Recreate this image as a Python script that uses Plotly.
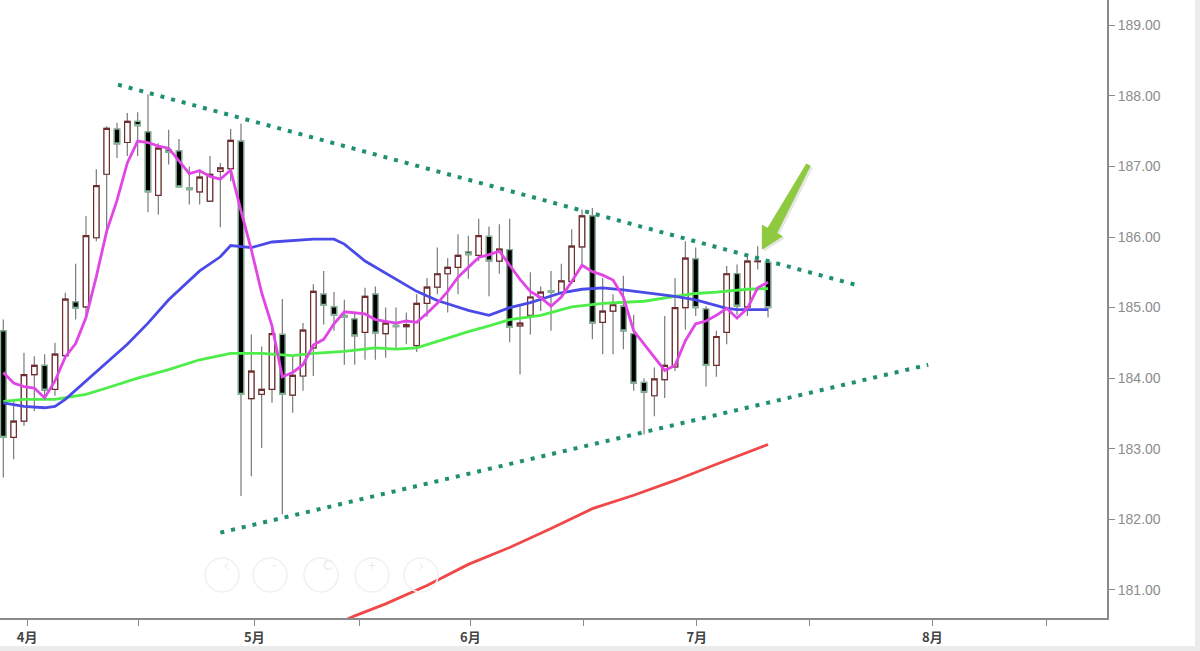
import math
import plotly.graph_objects as go

# daily candles (index 0 = first visible trading day)
opens = [184.67, 183.16, 183.39, 184.05, 184.18, 183.84, 184.32, 185.08, 185.01, 185.99,
         186.89, 187.53, 187.34, 187.64, 187.49, 186.59, 187.24, 187.22, 186.70, 186.64,
         186.51, 186.93, 186.97, 187.36, 183.71, 183.77, 183.84, 184.62, 183.76, 184.03,
         184.43, 185.19, 185.01, 184.89, 184.84, 184.65, 185.19, 184.63, 184.75, 184.73,
         184.46, 185.06, 185.29, 185.48, 185.57, 185.79, 185.74, 186.01, 185.66, 185.82,
         184.74, 184.89, 185.15, 185.24, 185.20, 185.37, 185.86, 186.30, 184.79, 184.95,
         185.02, 184.63, 183.94, 183.75, 183.98, 184.16, 185.00, 185.69, 184.98, 184.18,
         184.65, 185.48, 185.01, 185.65, 185.64]
highs = [184.83, 183.70, 184.36, 184.31, 184.34, 184.50, 185.21, 185.62, 186.30, 186.96,
         187.57, 187.62, 187.76, 187.77, 188.02, 187.33, 187.52, 187.39, 187.00, 186.96,
         187.15, 187.05, 187.53, 187.61, 184.62, 184.45, 184.74, 185.12, 184.31, 184.78,
         185.33, 185.52, 185.22, 185.11, 184.93, 185.28, 185.30, 185.00, 185.00, 184.93,
         185.19, 185.42, 185.85, 185.70, 186.04, 186.02, 186.26, 186.15, 186.18, 186.26,
         185.03, 185.50, 185.30, 185.52, 185.62, 186.11, 186.39, 186.41, 185.42, 185.19,
         185.45, 184.90, 184.00, 184.15, 184.88, 185.42, 185.94, 185.85, 185.02, 184.67,
         185.59, 185.61, 185.75, 185.87, 185.69]
lows = [182.59, 182.85, 183.32, 183.53, 183.72, 183.75, 184.28, 184.83, 184.84, 185.94,
        186.06, 187.12, 187.15, 187.15, 186.35, 186.32, 187.03, 186.70, 186.46, 186.46,
        186.50, 186.14, 186.79, 182.33, 182.61, 183.01, 183.65, 182.07, 183.51, 183.82,
        184.03, 184.76, 184.67, 184.19, 184.19, 184.26, 184.26, 184.29, 184.41, 184.48,
        184.37, 184.87, 185.19, 184.93, 185.19, 185.41, 185.66, 185.16, 185.48, 184.51,
        184.05, 184.62, 184.95, 184.67, 185.14, 185.33, 185.61, 184.55, 184.34, 184.34,
        184.41, 183.82, 183.20, 183.46, 183.72, 184.10, 184.69, 184.88, 183.88, 184.02,
        184.48, 184.89, 184.88, 185.54, 184.86]
closes = [183.16, 183.39, 184.05, 184.18, 183.83, 184.34, 185.12, 184.99, 186.02, 186.73,
          187.54, 187.32, 187.64, 187.58, 186.64, 187.26, 187.20, 186.71, 186.67, 186.85,
          186.89, 186.98, 187.37, 183.77, 184.10, 183.84, 184.63, 183.77, 184.04, 184.68,
          185.23, 185.03, 184.89, 184.86, 184.60, 185.16, 184.64, 184.78, 184.73, 184.76,
          185.06, 185.29, 185.48, 185.57, 185.74, 185.75, 186.02, 185.66, 185.83, 184.72,
          184.78, 185.15, 185.22, 185.22, 185.38, 185.87, 186.30, 184.78, 184.95, 185.04,
          184.67, 183.93, 183.80, 183.99, 184.18, 185.00, 185.70, 185.00, 184.18, 184.59,
          185.48, 185.02, 185.66, 185.66, 185.00]
days = list(range(len(opens)))

# moving averages
ma_short = [184.08, 183.93, 183.88, 183.86, 183.72, 183.96, 184.30, 184.49, 184.86, 185.44,
            186.08, 186.52, 187.05, 187.36, 187.34, 187.29, 187.26, 187.08, 186.90, 186.94,
            186.86, 186.82, 186.95, 186.37, 185.82, 185.21, 184.74, 184.02, 184.08, 184.19,
            184.47, 184.55, 184.77, 184.94, 184.92, 184.91, 184.83, 184.81, 184.78, 184.81,
            184.79, 184.92, 185.06, 185.23, 185.43, 185.57, 185.71, 185.75, 185.80, 185.60,
            185.40, 185.23, 185.14, 185.02, 185.15, 185.37, 185.60, 185.51, 185.46, 185.39,
            185.15, 184.67, 184.48, 184.29, 184.11, 184.18, 184.53, 184.77, 184.81, 184.89,
            184.99, 184.85, 184.99, 185.28, 185.36]

ma_mid_x = [0, 2, 4, 5, 6, 8, 10, 12, 14, 16, 19, 21, 22, 23, 24, 26, 28, 30, 32, 33,
            35, 38, 40, 42, 45, 47, 48, 49, 51, 54, 56, 58, 60, 63, 65, 67, 68, 70, 71, 74]
ma_mid = [183.65, 183.60, 183.58, 183.60, 183.70, 183.96, 184.22, 184.48, 184.78, 185.11,
          185.52, 185.72, 185.88, 185.87, 185.85, 185.93, 185.95, 185.97, 185.97, 185.90,
          185.66, 185.40, 185.23, 185.10, 184.96, 184.89, 184.95, 185.00, 185.07, 185.21,
          185.26, 185.28, 185.25, 185.20, 185.16, 185.11, 185.07, 184.99, 184.97, 184.97]

ma_long_x = [0, 2, 5, 8, 10, 13, 16, 19, 22, 25, 28, 30, 33, 36, 38, 40, 42, 45, 47, 49,
             52, 55, 58, 62, 65, 67, 69, 72, 74]
ma_long = [183.67, 183.70, 183.70, 183.77, 183.86, 184.00, 184.12, 184.26, 184.35, 184.35,
           184.32, 184.35, 184.38, 184.43, 184.41, 184.43, 184.52, 184.66, 184.74, 184.83,
           184.89, 185.01, 185.06, 185.09, 185.16, 185.20, 185.22, 185.26, 185.27]

ma_200_x = [32, 34, 37, 41, 45, 49, 53, 57, 61, 65, 69, 74]
ma_200 = [180.50, 180.63, 180.80, 181.06, 181.36, 181.60, 181.87, 182.15, 182.34, 182.55,
          182.78, 183.06]

# hand-drawn triangle lines
upper_x = [11.1, 82.8]
upper_y = [188.16, 185.31]
lower_x = [21.0, 89.5]
lower_y = [181.81, 184.19]

month_ticks = [2.3, 24.3, 45.2, 67.1, 89.9]
month_labels = ["4月", "5月", "6月", "7月", "8月"]
mid_ticks = [13.1, 34.5, 56.1, 78.0, 100.9]

arrow_tip = (73.4, 185.82)

X_RANGE = [-0.32, 106.8]
Y_RANGE = [180.60, 189.36]
W, H = 1200, 651
ML, MR, MT, MB = 0, 93, 0, 33
PW, PH = W - ML - MR, H - MT - MB

fig = go.Figure()

def add_line(x, y, color, width=2.5, dash=None):
    fig.add_trace(go.Scatter(x=x, y=y, mode="lines", hoverinfo="skip", showlegend=False,
                             line=dict(color=color, width=width, dash=dash)))

add_line(ma_200_x, ma_200, "#f04848", width=2.8)
add_line(ma_long_x, ma_long, "#4ded4a", width=2.8)
add_line(ma_mid_x, ma_mid, "#4a4ae8", width=2.8)
add_line(days, ma_short, "#e046e6", width=2.8)
add_line(upper_x, upper_y, "#1f8f72", width=4, dash="4px,7px")
add_line(lower_x, lower_y, "#1f8f72", width=4, dash="4px,7px")

# wicks (grey)
fig.add_trace(go.Candlestick(
    x=days, open=opens, high=highs, low=lows, close=closes,
    increasing=dict(line=dict(color="#7a7a7a", width=1.2), fillcolor="rgba(0,0,0,0)"),
    decreasing=dict(line=dict(color="#7a7a7a", width=1.2), fillcolor="rgba(0,0,0,0)"),
    hoverinfo="skip", showlegend=False, whiskerwidth=0))

# bodies
body_hi = [max(o, c) for o, c in zip(opens, closes)]
body_lo = [min(o, c) for o, c in zip(opens, closes)]
fig.add_trace(go.Candlestick(
    x=days, open=opens, high=body_hi, low=body_lo, close=closes,
    increasing=dict(line=dict(color="#6e2c2c", width=1.2), fillcolor="#ffffff"),
    decreasing=dict(line=dict(color="#86b496", width=1.2), fillcolor="#000000"),
    hoverinfo="skip", showlegend=False, whiskerwidth=0))

# green arrow pointing at the last candles
px_x = PW / (X_RANGE[1] - X_RANGE[0])
px_y = PH / (Y_RANGE[1] - Y_RANGE[0])

def arrow_pt(along, across, ox=0, oy=0):
    d = (0.481, -0.877)
    n = (0.877, 0.481)
    dx = along * d[0] + across * n[0] + ox
    dy = along * d[1] + across * n[1] + oy
    return "%.4f,%.4f" % (arrow_tip[0] + dx / px_x, arrow_tip[1] - dy / px_y)

def arrow_path(ox=0, oy=0):
    pts = [(0, 0), (22, -12), (22, -5.5), (97, -2.5), (97, 2.5), (22, 5.5), (22, 12)]
    return "M " + " L ".join(arrow_pt(a, b, ox, oy) for a, b in pts) + " Z"

shapes = [
    dict(type="path", xref="x", yref="y", path=arrow_path(2, 2),
         fillcolor="rgba(0,0,0,0.10)", line=dict(width=0)),
    dict(type="path", xref="x", yref="y", path=arrow_path(),
         fillcolor="#8fc93f", line=dict(width=0)),
    # page frame
    dict(type="rect", xref="paper", yref="paper", x0=1195 / PW, x1=1.09, y0=-0.06, y1=1.01,
         fillcolor="#ececec", line=dict(width=0)),
    dict(type="rect", xref="paper", yref="paper", x0=-0.01, x1=1.09, y0=-0.06,
         y1=(PH - 646) / PH, fillcolor="#ececec", line=dict(width=0)),
]

# faint zoom buttons
annotations = []
for cx, g in zip([222, 270, 321, 372, 421], ["‹", "-", "C", "+", "›"]):
    r = 17
    shapes.append(dict(type="circle", xref="paper", yref="paper",
                       x0=(cx - r) / PW, x1=(cx + r) / PW,
                       y0=(PH - 575 - r) / PH, y1=(PH - 575 + r) / PH,
                       line=dict(color="#f1f1f1", width=1.5)))
    annotations.append(dict(xref="paper", yref="paper", x=cx / PW, y=(PH - 575) / PH,
                            text=g, showarrow=False,
                            font=dict(size=14, color="#ececec", family="Liberation Sans")))

fig.update_layout(
    width=W, height=H,
    margin=dict(l=ML, r=MR, t=MT, b=MB),
    paper_bgcolor="white", plot_bgcolor="white",
    showlegend=False,
    boxgap=0.25,
    shapes=shapes,
    annotations=annotations,
    xaxis=dict(
        range=X_RANGE, rangeslider=dict(visible=False),
        showgrid=False, zeroline=False,
        showline=True, linecolor="#8a8a8a", linewidth=2,
        tickmode="array", tickvals=month_ticks, ticktext=month_labels,
        ticks="outside", ticklen=6, tickcolor="#8a8a8a", tickwidth=1,
        tickfont=dict(family="Noto Sans CJK JP", size=13, color="#444444", weight="bold"),
        minor=dict(tickmode="array", tickvals=mid_ticks, ticks="outside",
                   ticklen=6, tickcolor="#8a8a8a", tickwidth=1, showgrid=False),
    ),
    yaxis=dict(
        range=Y_RANGE, side="right",
        showgrid=False, zeroline=False,
        showline=True, linecolor="#8a8a8a", linewidth=2,
        tickmode="linear", tick0=181, dtick=1, tickformat=".2f",
        ticks="outside", ticklen=6, tickcolor="#8a8a8a", tickwidth=1,
        tickfont=dict(family="Liberation Sans, Arial", size=14, color="#8c8c8c"),
    ),
)

fig.write_html("out.html", config={"displayModeBar": False},
               post_script="document.body.style.margin='0';")
